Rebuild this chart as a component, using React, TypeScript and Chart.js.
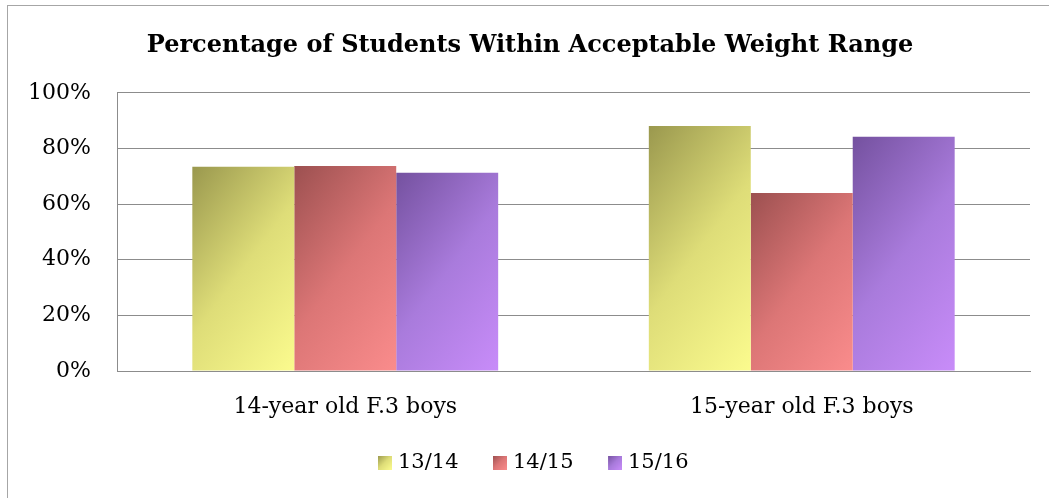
import React, { useEffect, useRef } from "react";
import { Chart, registerables } from "chart.js";

Chart.register(...registerables);

const categories = ["14-year old F.3 boys", "15-year old F.3 boys"];
const seriesNames = ["13/14", "14/15", "15/16"];
const series1314 = [73.4, 88.1];
const series1415 = [73.7, 64.0];
const series1516 = [71.3, 84.2];
const yTicks = [0, 20, 40, 60, 80, 100];

const palettes: [string, string, string][] = [
  ["#9a984e", "#dedd78", "#fbfb8e"],
  ["#9c5050", "#dc7676", "#fa8c8c"],
  ["#74519f", "#a97bdc", "#c88cf9"],
];

const FONT = "'DejaVu Serif', serif";
const CAT_PCT = 0.67;
const DIR = [0.8, 0.6];

function makeSwatch(p: [string, string, string]) {
  const c = document.createElement("canvas");
  c.width = 25;
  c.height = 14;
  const g = c.getContext("2d")!;
  const gr = g.createLinearGradient(11, 0, 25, 14);
  gr.addColorStop(0, p[0]);
  gr.addColorStop(0.5, p[1]);
  gr.addColorStop(1, p[2]);
  g.fillStyle = gr;
  g.fillRect(11, 0, 14, 14);
  return c;
}

export default function App() {
  const ref = useRef<HTMLCanvasElement>(null);
  useEffect(() => {
    if (!ref.current) return;
    const all = [series1314, series1415, series1516];
    const bg = (di: number) => (ctx: any) => {
      const chart = ctx.chart;
      const p = palettes[di];
      const xs = chart.scales?.x;
      const ys = chart.scales?.y;
      if (!chart.chartArea || !xs || !ys || ctx.dataIndex === undefined) return p[1];
      const center = xs.getPixelForValue(ctx.dataIndex);
      const catW = (chart.chartArea.right - chart.chartArea.left) / categories.length;
      const total = catW * CAT_PCT;
      const bw = total / all.length;
      const left = center - total / 2 + di * bw;
      const top = ys.getPixelForValue(all[di][ctx.dataIndex]);
      const bottom = ys.getPixelForValue(0);
      const h = bottom - top;
      const L = bw * DIR[0] + h * DIR[1];
      const g = chart.ctx.createLinearGradient(left, top, left + L * DIR[0], top + L * DIR[1]);
      g.addColorStop(0, p[0]);
      g.addColorStop(0.5, p[1]);
      g.addColorStop(1, p[2]);
      return g;
    };
    const swatches = palettes.map(makeSwatch);
    const chart = new Chart(ref.current, {
      type: "bar",
      data: {
        labels: categories,
        datasets: all.map((d, i) => ({
          label: seriesNames[i],
          data: d,
          backgroundColor: bg(i),
          borderWidth: 0,
          barPercentage: 1,
          categoryPercentage: CAT_PCT,
          pointStyle: swatches[i] as any,
        })),
      },
      options: {
        animation: false,
        responsive: false,
        layout: { padding: { left: 11, right: 0, top: 0, bottom: 15 } },
        plugins: {
          title: {
            display: true,
            text: "Percentage of Students Within Acceptable Weight Range",
            color: "#000",
            font: { family: FONT, size: 24, weight: "bold" },
            padding: { top: 31, bottom: 33 },
          },
          legend: {
            position: "bottom",
            labels: {
              usePointStyle: true,
              boxWidth: 16,
              boxHeight: 14,
              padding: 28,
              color: "#000",
              font: { family: FONT, size: 21 },
            },
          },
          tooltip: { enabled: false },
        },
        scales: {
          x: {
            grid: { display: false, drawTicks: false },
            border: { display: true, color: "#8c8c8c", width: 1 },
            ticks: { color: "#000", font: { family: FONT, size: 22 }, padding: 23 },
            afterFit: (s: any) => {
              s.height = 53;
            },
          },
          y: {
            min: 0,
            max: 100,
            afterBuildTicks: (s: any) => {
              s.ticks = yTicks.map((v) => ({ value: v }));
            },
            grid: { color: "#8c8c8c", lineWidth: 1, drawTicks: false },
            border: { display: true, color: "#8c8c8c", width: 1 },
            ticks: {
              color: "#000",
              font: { family: FONT, size: 22 },
              padding: 26,
              callback: (v: any) => v + "%",
            },
            afterFit: (s: any) => {
              s.width = 106;
            },
          },
          yRight: {
            position: "right",
            display: true,
            min: 0,
            max: 100,
            grid: { display: false, drawTicks: false },
            border: { display: false },
            ticks: { display: false },
            afterFit: (s: any) => {
              s.width = 19;
            },
          },
        },
      },
    });
    return () => chart.destroy();
  }, []);
  return (
    <div style={{ position: "fixed", left: 0, top: 0, width: 1049, height: 498, overflow: "hidden", background: "#fff" }}>
      <div
        style={{
          position: "absolute",
          left: 7,
          top: 5,
          width: 1080,
          height: 520,
          border: "1px solid #a6a6a6",
          boxSizing: "border-box",
        }}
      />
      <canvas ref={ref} width={1049} height={498} style={{ position: "absolute", left: 0, top: 0, width: 1049, height: 498 }} />
    </div>
  );
}
